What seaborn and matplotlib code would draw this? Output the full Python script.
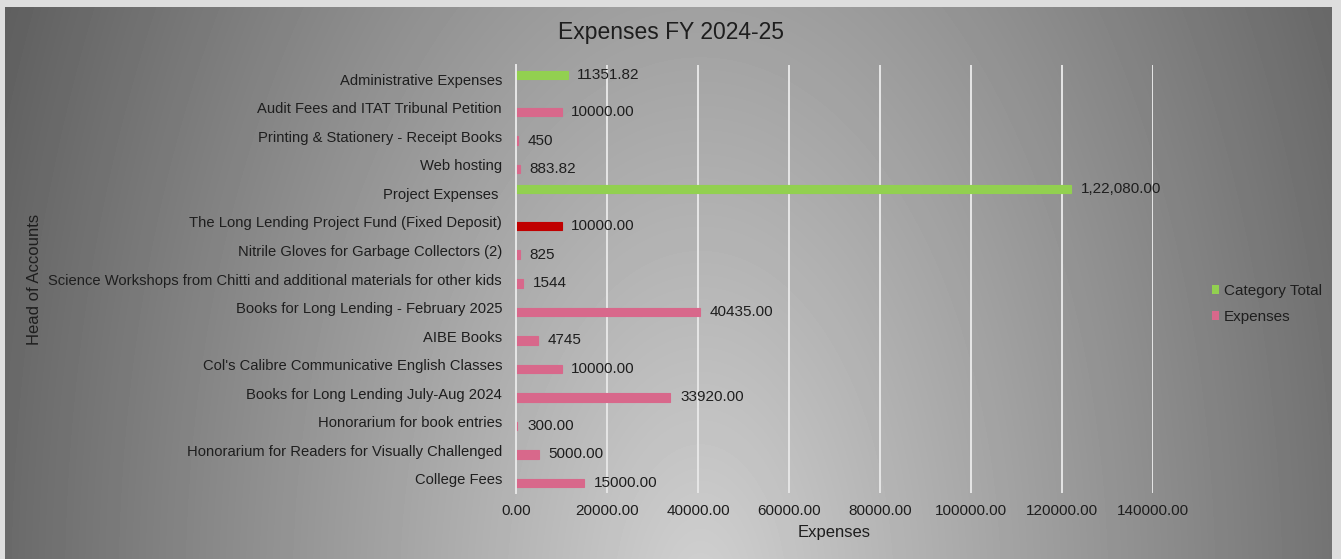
import numpy as np
import pandas as pd
from matplotlib import pyplot as plt
from matplotlib.patches import Patch
import seaborn as sns

accounts = [
    "Administrative Expenses",
    "Audit Fees and ITAT Tribunal Petition",
    "Printing & Stationery - Receipt Books",
    "Web hosting",
    "Project Expenses ",
    "The Long Lending Project Fund (Fixed Deposit)",
    "Nitrile Gloves for Garbage Collectors (2)",
    "Science Workshops from Chitti and additional materials for other kids",
    "Books for Long Lending - February 2025",
    "AIBE Books",
    "Col's Calibre Communicative English Classes",
    "Books for Long Lending July-Aug 2024",
    "Honorarium for book entries",
    "Honorarium for Readers for Visually Challenged",
    "College Fees",
]
series = [
    "Category Total", "Expenses", "Expenses", "Expenses", "Category Total",
    "Expenses", "Expenses", "Expenses", "Expenses", "Expenses",
    "Expenses", "Expenses", "Expenses", "Expenses", "Expenses",
]
values = [
    11351.82, 10000.00, 450, 883.82, 122080.00,
    10000.00, 825, 1544, 40435.00, 4745,
    10000.00, 33920.00, 300.00, 5000.00, 15000.00,
]
value_labels = [
    "11351.82", "10000.00", "450", "883.82", "1,22,080.00",
    "10000.00", "825", "1544", "40435.00", "4745",
    "10000.00", "33920.00", "300.00", "5000.00", "15000.00",
]
highlight = "The Long Lending Project Fund (Fixed Deposit)"
series_order = ["Category Total", "Expenses"]
colors = {"Category Total": "#92D050", "Expenses": "#D8688B"}
highlight_color = "#C00000"

df = pd.DataFrame({"account": accounts, "series": series,
                   "value": values, "label": value_labels})

sns.set_style("white")
plt.rcParams["font.family"] = ["Liberation Sans", "DejaVu Sans"]
text_color = "#1e1e1e"

W, H = 1341, 559
fig = plt.figure(figsize=(W / 100, H / 100), dpi=100)

# radial grey background with a light frame, like the slide it came from
yy, xx = np.mgrid[0:H, 0:W]
r = np.sqrt(((xx - 700) / 720.0) ** 2 + ((yy - 600) / 1300.0) ** 2)
bg = np.clip(0.82 - 0.42 * r, 0.36, 1.0)
bg[:7, :] = 0.87
bg[:, :5] = 0.87
bg[:, W - 9:] = 0.87
bg_ax = fig.add_axes([0, 0, 1, 1], zorder=-1)
bg_ax.imshow(bg, cmap="gray", vmin=0, vmax=1, aspect="auto")
bg_ax.axis("off")

ax = fig.add_axes([516 / W, 1 - 493 / H, (1153 - 516) / W, (493 - 65) / H])
ax.set_facecolor("none")

sns.barplot(data=df, x="value", y="account", hue="series",
            hue_order=series_order, palette=colors, order=accounts,
            width=0.6, dodge=True, orient="h", ax=ax, legend=False,
            saturation=1)

for container, level in zip(ax.containers, series_order):
    sub = df[df["series"] == level]
    for bar, acc in zip(container, sub["account"]):
        if acc == highlight:
            bar.set_facecolor(highlight_color)
        # thin edge in the fill colour so tiny values still show
        bar.set_edgecolor(bar.get_facecolor())
        bar.set_linewidth(0.8)
    ax.bar_label(container, labels=list(sub["label"]), padding=7,
                 fontsize=11, color=text_color)

ax.set_xlim(0, 140000)
ax.set_ylim(len(accounts) - 0.5, -0.5)
ax.set_xticks(np.arange(0, 140001, 20000))
ax.set_xticklabels([f"{t:.2f}" for t in np.arange(0, 140001, 20000)])
ax.tick_params(axis="both", length=0, colors=text_color)
ax.tick_params(axis="x", pad=8, labelsize=11)
ax.tick_params(axis="y", pad=10, labelsize=10.6)
ax.grid(axis="x", color="#e6e6e6", linewidth=1.4)
ax.set_axisbelow(True)
for side in ["top", "right", "bottom"]:
    ax.spines[side].set_visible(False)
ax.spines["left"].set_color("#e6e6e6")
ax.spines["left"].set_linewidth(1.4)

ax.set_xlabel("Expenses", fontsize=12, color=text_color, labelpad=5)
ax.set_ylabel("")
fig.text(35 / W, 1 - 279 / H, "Head of Accounts", rotation=90,
         ha="center", va="center", fontsize=12, color=text_color)
fig.text(0.5, 1 - 32 / H, "Expenses FY 2024-25", ha="center", va="center",
         fontsize=16.5, color=text_color)

handles = [Patch(facecolor=colors[s], edgecolor="none", label=s)
           for s in series_order]
fig.legend(handles=handles, loc="center left",
           bbox_to_anchor=(1198 / W, 1 - 304 / H), frameon=False,
           handlelength=0.5, handleheight=0.5, handletextpad=0.3,
           labelspacing=0.8, fontsize=11, labelcolor=text_color)

fig.savefig("out.png", dpi=100)
